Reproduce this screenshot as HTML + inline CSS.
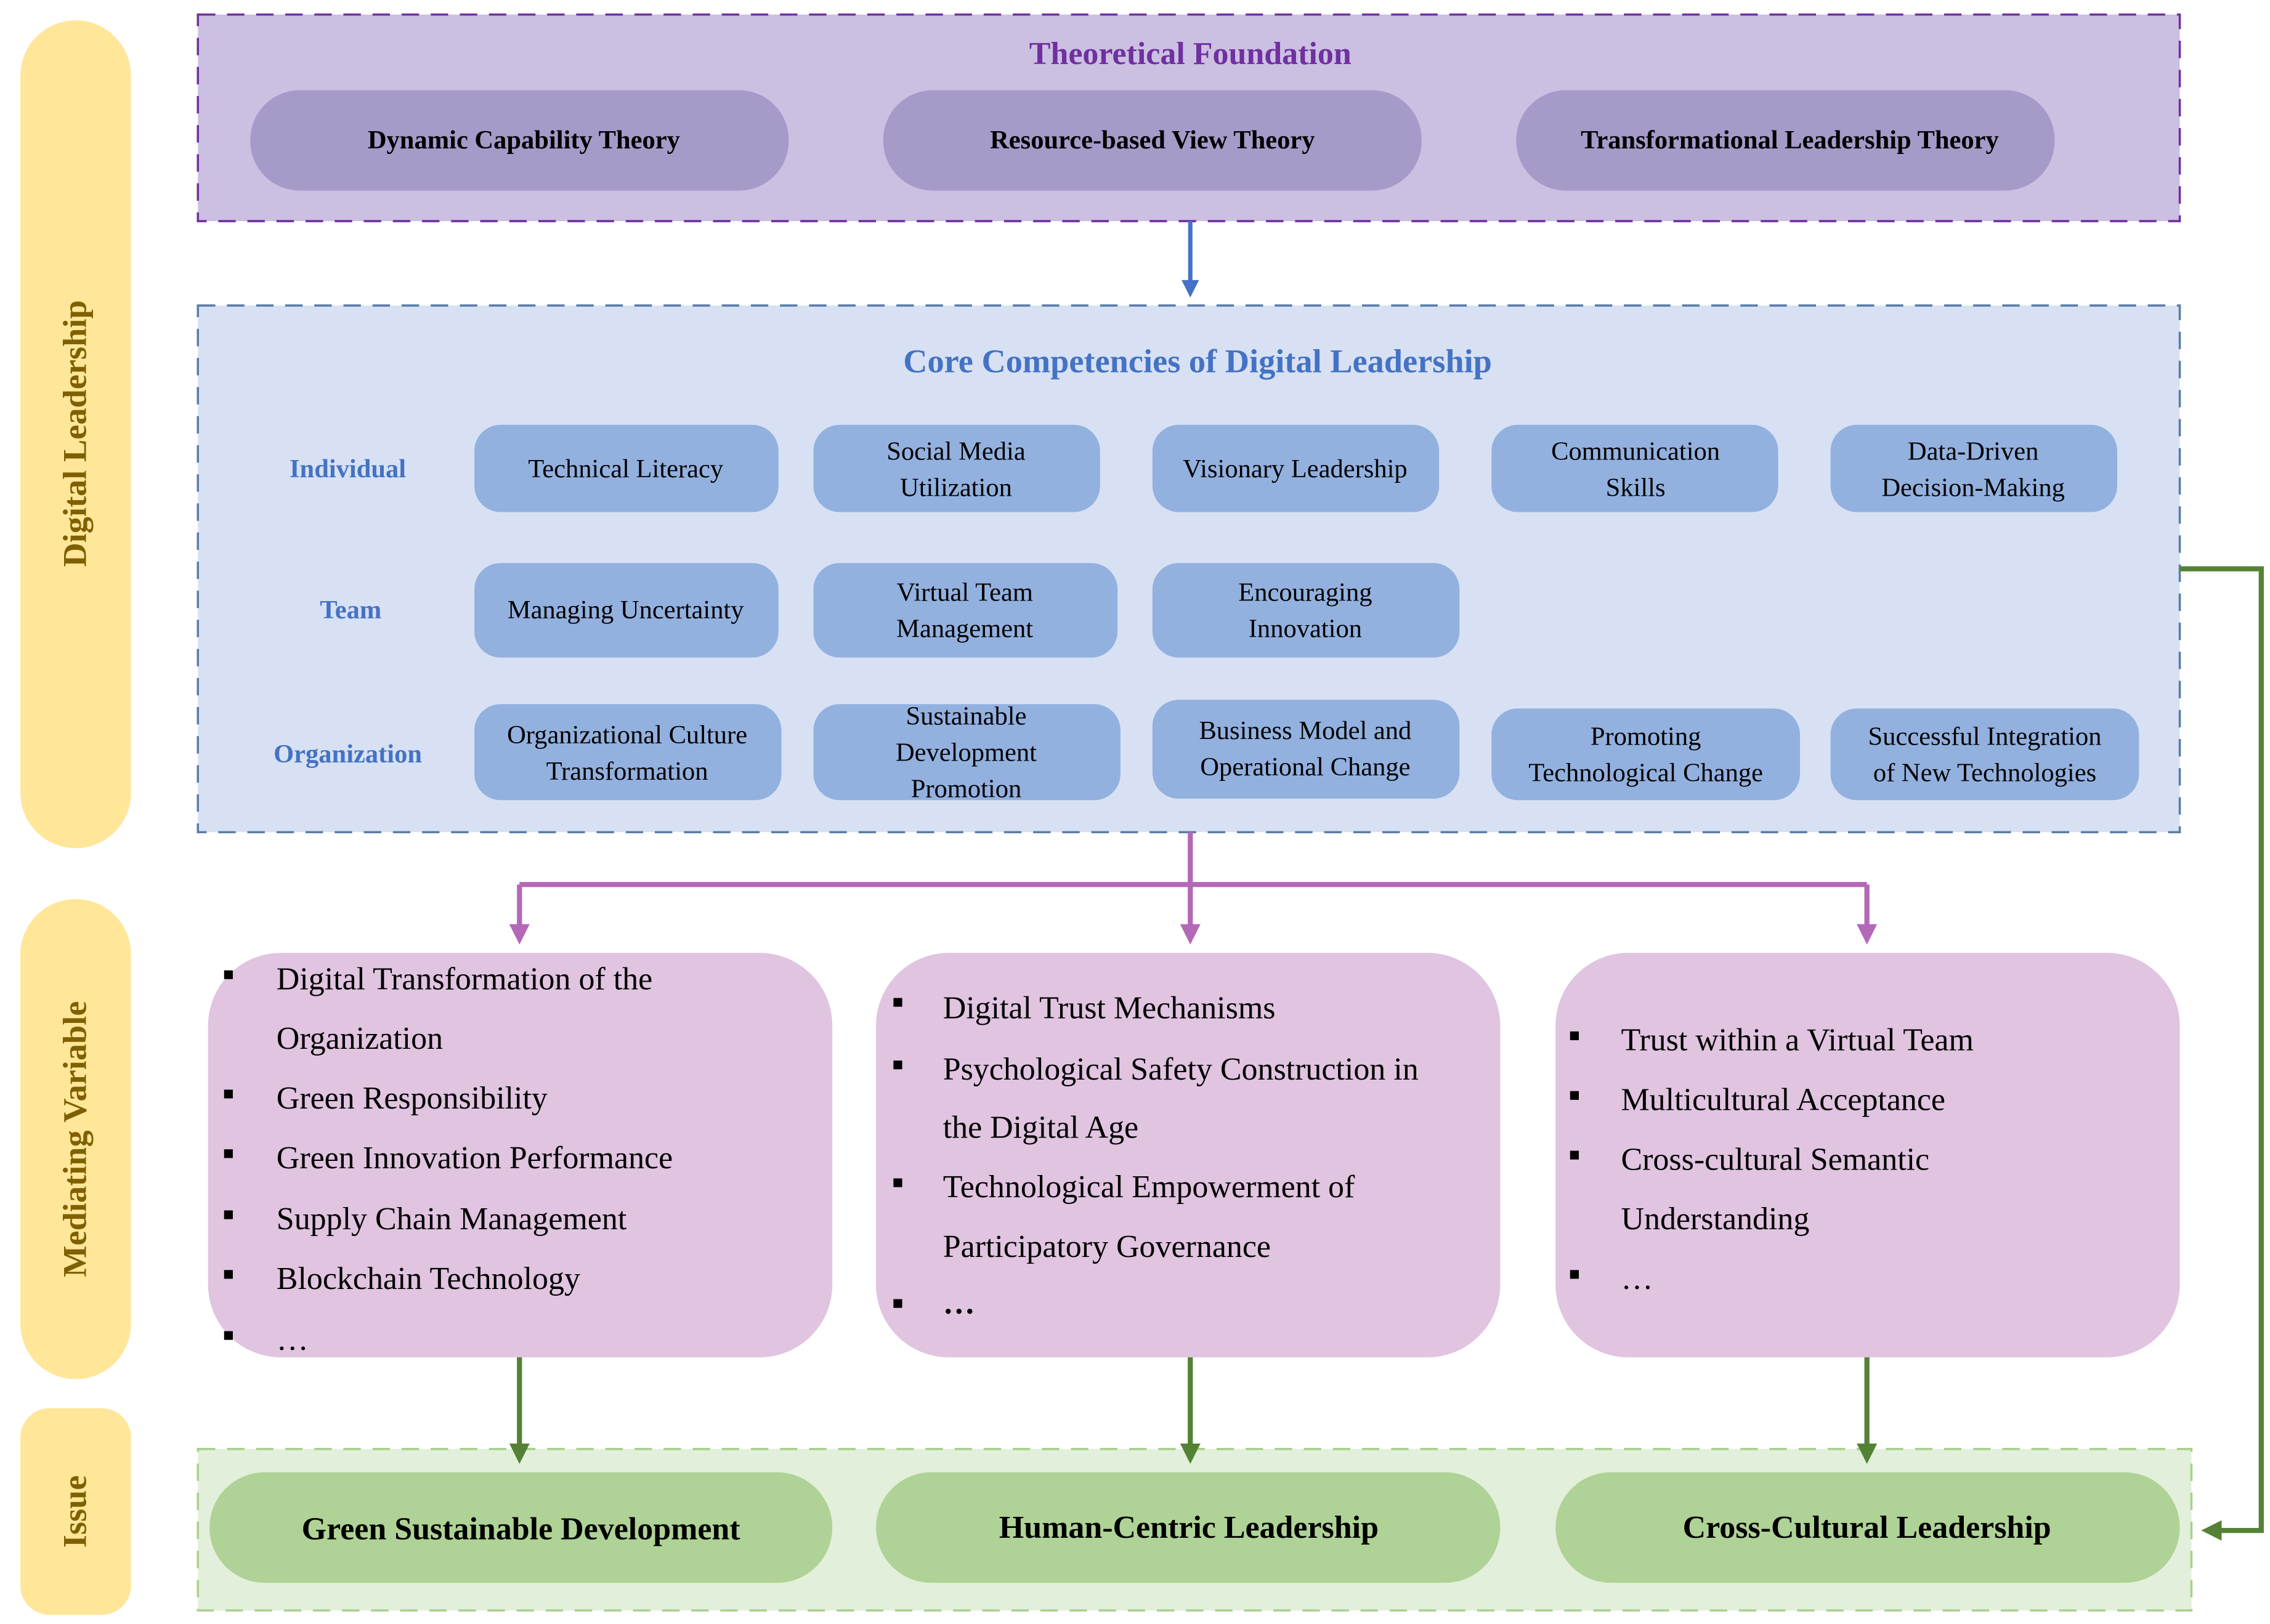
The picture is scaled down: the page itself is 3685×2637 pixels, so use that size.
<!DOCTYPE html>
<html><head><meta charset="utf-8"><style>html,body{margin:0;padding:0;background:#fff}svg{display:block}</style></head>
<body>
<svg xmlns="http://www.w3.org/2000/svg" width="3685" height="2637" viewBox="0 0 1560 1116.3" preserveAspectRatio="none" font-family="Liberation Serif, serif">
<defs>
<marker id="ab" markerWidth="4" markerHeight="4" refX="2.5" refY="2" orient="auto" markerUnits="strokeWidth"><path d="M0,0L4,2L0,4z" fill="#4472C4"/></marker>
<marker id="ap" markerWidth="4" markerHeight="4" refX="2.5" refY="2" orient="auto" markerUnits="strokeWidth"><path d="M0,0L4,2L0,4z" fill="#B468B8"/></marker>
<marker id="ag" markerWidth="4" markerHeight="4" refX="2.5" refY="2" orient="auto" markerUnits="strokeWidth"><path d="M0,0L4,2L0,4z" fill="#548235"/></marker>
</defs>
<rect width="1560" height="1117" fill="#fff"/>
<!-- side pills -->
<rect x="14" y="14" width="76" height="569" rx="38" fill="#FFE699"/>
<rect x="14" y="618" width="76" height="330" rx="38" fill="#FFE699"/>
<rect x="14" y="968" width="76" height="142" rx="20" fill="#FFE699"/>
<g fill="#7F6000" font-weight="bold" font-size="23" text-anchor="middle">
<text transform="translate(59,298) rotate(-90)">Digital Leadership</text>
<text transform="translate(59,783) rotate(-90)">Mediating Variable</text>
<text transform="translate(59,1039) rotate(-90)">Issue</text>
</g>
<!-- theory -->
<rect x="136" y="10" width="1362" height="142" fill="#CBBFE2" stroke="#7030A0" stroke-width="1.5" stroke-dasharray="12,8"/>
<text x="818" y="44" text-anchor="middle" font-size="22" font-weight="bold" fill="#7030A0">Theoretical Foundation</text>
<g fill="#A69AC9"><rect x="172" y="62" width="370" height="69" rx="34"/><rect x="607" y="62" width="370" height="69" rx="34"/><rect x="1042" y="62" width="370" height="69" rx="34"/></g>
<g font-size="18" font-weight="bold" text-anchor="middle" fill="#000">
<text x="360" y="102">Dynamic Capability Theory</text><text x="792" y="102">Resource-based View Theory</text><text x="1230" y="102">Transformational Leadership Theory</text></g>
<line x1="818" y1="152" x2="818" y2="200" stroke="#4472C4" stroke-width="3" marker-end="url(#ab)"/>
<!-- core -->
<rect x="136" y="210" width="1362" height="362" fill="#D7E1F3" stroke="#5B7CA6" stroke-width="1.5" stroke-dasharray="12,8"/>
<text x="823" y="256" text-anchor="middle" font-size="23" font-weight="bold" fill="#4472C4">Core Competencies of Digital Leadership</text>
<g font-size="18" font-weight="bold" text-anchor="middle" fill="#4472C4"><text x="239" y="328">Individual</text><text x="241" y="425">Team</text><text x="239" y="524">Organization</text></g>
<g fill="#93B1DF">
<rect x="326" y="292" width="209" height="60" rx="18"/><rect x="559" y="292" width="197" height="60" rx="18"/><rect x="792" y="292" width="197" height="60" rx="18"/><rect x="1025" y="292" width="197" height="60" rx="18"/><rect x="1258" y="292" width="197" height="60" rx="18"/>
<rect x="326" y="387" width="209" height="65" rx="18"/><rect x="559" y="387" width="209" height="65" rx="18"/><rect x="792" y="387" width="211" height="65" rx="18"/>
<rect x="326" y="484" width="211" height="66" rx="18"/><rect x="559" y="484" width="211" height="66" rx="18"/><rect x="792" y="481" width="211" height="68" rx="18"/><rect x="1025" y="487" width="212" height="63" rx="18"/><rect x="1258" y="487" width="212" height="63" rx="18"/>
</g>
<g font-size="18" text-anchor="middle" fill="#000">
<text x="430" y="328">Technical Literacy</text>
<text x="657" y="316">Social Media</text><text x="657" y="341">Utilization</text>
<text x="890" y="328">Visionary Leadership</text>
<text x="1124" y="316">Communication</text><text x="1124" y="341">Skills</text>
<text x="1356" y="316">Data-Driven</text><text x="1356" y="341">Decision-Making</text>
<text x="430" y="425">Managing Uncertainty</text>
<text x="663" y="413">Virtual Team</text><text x="663" y="438">Management</text>
<text x="897" y="413">Encouraging</text><text x="897" y="438">Innovation</text>
<text x="431" y="511">Organizational Culture</text><text x="431" y="536">Transformation</text>
<text x="664" y="498">Sustainable</text><text x="664" y="523">Development</text><text x="664" y="548">Promotion</text>
<text x="897" y="508">Business Model and</text><text x="897" y="533">Operational Change</text>
<text x="1131" y="512">Promoting</text><text x="1131" y="537">Technological Change</text>
<text x="1364" y="512">Successful Integration</text><text x="1364" y="537">of New Technologies</text>
</g>
<!-- purple connectors -->
<g stroke="#B468B8" stroke-width="3.5" fill="none">
<line x1="818" y1="572" x2="818" y2="608"/>
<line x1="357" y1="608" x2="1283" y2="608"/>
<line x1="357" y1="608" x2="357" y2="644" marker-end="url(#ap)"/>
<line x1="818" y1="608" x2="818" y2="644" marker-end="url(#ap)"/>
<line x1="1283" y1="608" x2="1283" y2="644" marker-end="url(#ap)"/>
</g>
<!-- mediating boxes -->
<g fill="#E0C4E0"><rect x="143" y="655" width="429" height="278" rx="50"/><rect x="602" y="655" width="429" height="278" rx="50"/><rect x="1069" y="655" width="429" height="278" rx="50"/></g>
<g fill="#000">
<rect x="154" y="667" width="6" height="6"/><rect x="154" y="749" width="6" height="6"/><rect x="154" y="790" width="6" height="6"/><rect x="154" y="832" width="6" height="6"/><rect x="154" y="873" width="6" height="6"/><rect x="154" y="915" width="6" height="6"/>
<rect x="614" y="686" width="6" height="6"/><rect x="614" y="729" width="6" height="6"/><rect x="614" y="810" width="6" height="6"/><rect x="614" y="893" width="6" height="6"/>
<rect x="1079" y="709" width="6" height="6"/><rect x="1079" y="750" width="6" height="6"/><rect x="1079" y="791" width="6" height="6"/><rect x="1079" y="873" width="6" height="6"/>
</g>
<g font-size="22" fill="#000">
<text x="190" y="680">Digital Transformation of the</text><text x="190" y="721">Organization</text><text x="190" y="762">Green Responsibility</text><text x="190" y="803">Green Innovation Performance</text><text x="190" y="845">Supply Chain Management</text><text x="190" y="886">Blockchain Technology</text><text x="190" y="928">…</text>
<text x="648" y="700">Digital Trust Mechanisms</text><text x="648" y="742">Psychological Safety Construction in</text><text x="648" y="782">the Digital Age</text><text x="648" y="823">Technological Empowerment of</text><text x="648" y="864">Participatory Governance</text><text x="648" y="903" font-weight="bold">…</text>
<text x="1114" y="722">Trust within a Virtual Team</text><text x="1114" y="763">Multicultural Acceptance</text><text x="1114" y="804">Cross-cultural Semantic</text><text x="1114" y="845">Understanding</text><text x="1114" y="886">…</text>
</g>
<!-- issue -->
<rect x="136" y="996" width="1370" height="111" fill="#E2EFDA" stroke="#A9D18E" stroke-width="1.5" stroke-dasharray="12,8"/>
<g fill="#AFD296"><rect x="144" y="1012" width="428" height="76" rx="38"/><rect x="602" y="1012" width="429" height="76" rx="38"/><rect x="1069" y="1012" width="429" height="76" rx="38"/></g>
<g font-size="22" font-weight="bold" text-anchor="middle" fill="#000"><text x="358" y="1058">Green Sustainable Development</text><text x="817" y="1057">Human-Centric Leadership</text><text x="1283" y="1057">Cross-Cultural Leadership</text></g>
<g stroke="#548235" stroke-width="3.5" fill="none">
<line x1="357" y1="933" x2="357" y2="1001" marker-end="url(#ag)"/>
<line x1="818" y1="933" x2="818" y2="1001" marker-end="url(#ag)"/>
<line x1="1283" y1="933" x2="1283" y2="1001" marker-end="url(#ag)"/>
<polyline points="1498,391 1554,391 1554,1052 1518,1052" marker-end="url(#ag)"/>
</g>
</svg>
</body></html>
